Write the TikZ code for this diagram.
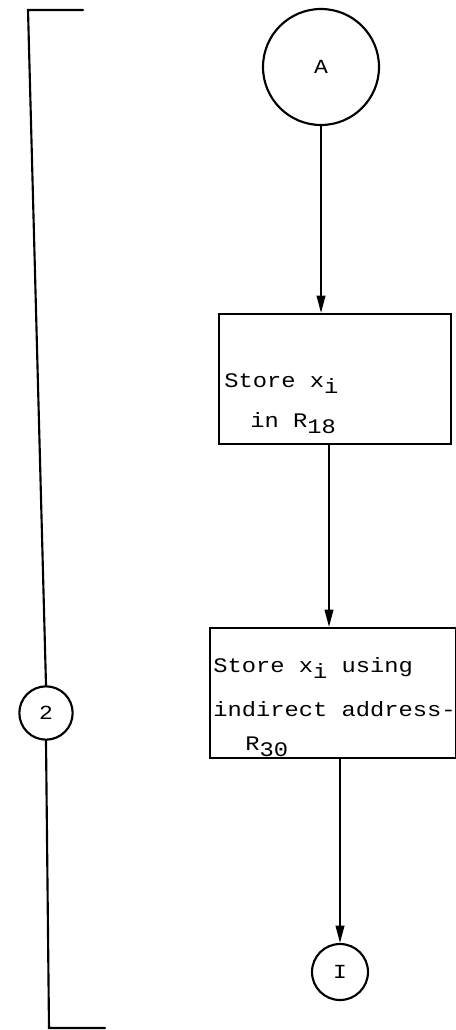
\documentclass[tikz,border=0pt]{standalone}
\usepackage{fontspec}
\newfontfamily\tw[FakeStretch=1.15]{Liberation Mono}
\usetikzlibrary{arrows.meta}
\tikzset{
  line/.style={line width=1.6pt, line cap=round},
  flow/.style={line width=1.4pt, -{Triangle[length=13pt,width=6.5pt]}},
  stepbox/.style={draw, line width=1.6pt, rectangle, inner sep=0pt},
  conn/.style={draw, line width=1.6pt, circle, inner sep=0pt, font=\tw\fontsize{15pt}{17pt}\selectfont},
  lbl/.style={anchor=base west, inner sep=0pt, font=\tw\fontsize{15.5pt}{18pt}\selectfont},
}
\newcommand{\lowr}[1]{\raisebox{-5pt}{#1}}
\begin{document}
\begin{tikzpicture}[x=0.75pt, y=-0.75pt]
\useasboundingbox (0,0) rectangle (455,1030);
% connectors (circles)
\node[conn, minimum size=87pt] (A) at (321,67) {A};
\node[conn, minimum size=42pt] (I) at (340,972) {I};
\node[conn, minimum size=40pt] (two) at (46,713) {2};
% boxes
\node[stepbox, minimum width=174pt, minimum height=97.5pt] (box1) at (335,379) {};
\node[stepbox, minimum width=184.5pt, minimum height=97.5pt] (box2) at (333,693) {};
% texts
\node[lbl] (t1) at (224,387) {Store x\lowr{i}};
\node[lbl] (t2) at (250,427) {in R\lowr{18}};
\node[lbl] (t3) at (213,672) {Store x\lowr{i} using};
\node[lbl] (t4) at (213,716) {indirect address-};
\node[lbl] (t5) at (245,750) {R\lowr{30}};
% arrows
\coordinate (a2) at (329,0);
\draw[flow] (A.south) -- (A.south |- box1.north);
\draw[flow] (box1.south -| a2) -- (box2.north -| a2);
\draw[flow] (box2.south -| I) -- (I.north);
% bracket
\coordinate (bt1) at (83,10);
\coordinate (bt0) at (28,10);
\coordinate (bb0) at (49,1028);
\coordinate (bb1) at (105,1028);
\draw[line] (bt1) -- (bt0) -- (two.north);
\draw[line] (two.south) -- (bb0) -- (bb1);
\end{tikzpicture}
\end{document}
